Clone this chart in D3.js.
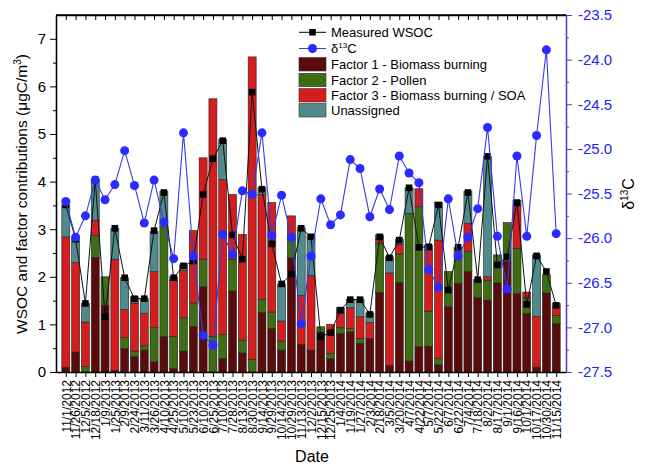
<!DOCTYPE html>
<html><head><meta charset="utf-8">
<script src="https://cdn.jsdelivr.net/npm/d3@7"></script>
<style>
body{margin:0;background:#fff;}
svg{font-family:"Liberation Sans",Arial,sans-serif;}
</style></head><body>
<svg id="c" width="645" height="472"></svg>
<script>
const dates = ["11/1/2012","11/26/2012","12/5/2012","12/18/2012","1/9/2013","1/25/2013","2/9/2013","2/24/2013","3/11/2013","3/26/2013","4/10/2013","4/25/2013","5/10/2013","5/23/2013","6/10/2013","6/25/2013","7/10/2013","7/28/2013","8/13/2013","8/30/2013","9/14/2013","9/29/2013","10/14/2013","10/29/2013","11/13/2013","12/2/2013","12/15/2013","12/25/2013","1/4/2014","1/19/2014","1/27/2014","2/3/2014","2/18/2014","3/5/2014","3/20/2014","4/7/2014","4/22/2014","5/7/2014","5/22/2014","6/7/2014","6/22/2014","7/4/2014","7/18/2014","8/2/2014","8/17/2014","9/1/2014","9/16/2014","10/1/2014","10/17/2014","10/30/2014","11/15/2014"];
const factor1 = [0.10,0.42,0.00,2.41,1.40,0.03,0.49,0.32,0.46,0.21,0.74,0.07,0.44,0.95,1.79,0.00,0.28,1.70,0.40,0.00,1.25,0.91,0.46,2.40,0.58,0.46,0.84,0.28,0.81,0.84,0.60,0.70,1.67,0.14,1.88,0.23,0.53,0.54,0.15,1.37,1.86,2.11,1.56,1.51,1.87,2.33,1.65,1.23,0.10,1.66,1.02];
const factor2 = [0.00,0.00,0.12,0.46,0.60,0.00,0.23,0.12,0.09,0.72,2.31,0.68,0.70,0.50,0.58,0.75,0.51,0.67,0.27,0.26,0.28,0.35,0.19,0.40,0.00,0.00,0.11,0.11,0.12,0.07,0.10,0.00,1.03,0.00,0.60,3.10,2.94,0.74,0.14,0.74,0.76,0.42,0.38,0.42,0.59,0.81,0.95,0.33,0.00,0.38,0.17];
const factor3 = [2.74,1.88,0.93,0.32,0.00,2.34,0.59,1.01,0.68,1.18,0.00,1.17,0.99,1.52,2.13,4.99,3.25,1.36,2.22,6.36,2.20,2.30,0.42,0.48,1.03,1.57,0.00,0.61,0.30,0.44,0.46,0.34,0.09,1.94,0.20,0.00,0.38,1.27,2.48,0.00,0.00,0.59,0.00,0.07,0.00,0.00,0.89,0.12,1.07,0.00,0.19];
const unassigned = [0.67,0.49,0.39,0.85,0.00,0.65,0.67,0.13,0.31,0.84,0.74,0.08,0.12,0.00,0.00,0.00,0.84,0.00,0.00,0.00,0.14,0.00,0.78,0.00,1.42,0.85,0.00,0.00,0.12,0.18,0.37,0.20,0.09,0.34,0.10,0.54,0.00,0.12,0.79,0.00,0.00,0.67,0.00,2.53,0.00,0.00,0.11,0.00,1.29,0.00,0.06];
const wsoc = [3.51,2.79,1.44,4.04,1.16,3.02,1.98,1.54,1.54,2.97,3.77,1.98,2.23,2.33,3.73,4.48,4.86,2.88,2.37,5.88,3.84,2.69,1.85,2.06,3.02,2.84,0.74,0.83,1.30,1.52,1.52,1.21,2.84,2.40,2.77,3.87,2.62,2.63,3.51,1.72,2.62,3.77,1.94,4.53,2.25,2.42,3.56,1.42,2.44,2.11,1.40];
const d13c = [-25.59,-25.99,-25.75,-25.35,-25.57,-25.40,-25.02,-25.41,-25.83,-25.35,-25.82,-26.23,-24.82,-26.20,-27.09,-27.20,-25.96,-26.18,-25.47,-25.51,-24.82,-25.97,-25.52,-25.99,-26.96,-26.20,-25.56,-25.85,-25.74,-25.12,-25.22,-25.76,-25.45,-25.68,-25.08,-25.27,-25.38,-26.35,-26.55,-25.56,-26.20,-25.99,-25.67,-24.76,-25.98,-26.57,-25.08,-25.98,-24.85,-23.89,-25.95];
const seriesNames = ["Factor 1 - Biomass burning","Factor 2 - Pollen","Factor 3 - Biomass burning / SOA","Unassigned"];
const seriesColors = ["#5a0b0b","#3e6d14","#d41e1e","#4f8b8c"];
const leftTicks = [0,1,2,3,4,5,6,7];
const rightTicks = [-27.5,-27.0,-26.5,-26.0,-25.5,-25.0,-24.5,-24.0,-23.5];

const svg = d3.select("#c");
const L=56, R=566, T=15, B=372;
const x = d3.scaleLinear().domain([0, dates.length+1]).range([L,R]);
const y = d3.scaleLinear().domain([0,7.5]).range([B,T]);
const y2 = d3.scaleLinear().domain([-27.5,-23.5]).range([B,T]);
const idx = d3.range(1, dates.length+1);

const rows = dates.map((d,i)=>({i:i+1, f1:factor1[i], f2:factor2[i], f3:factor3[i], u:unassigned[i]}));
const keys = ["f1","f2","f3","u"];
const stack = d3.stack().keys(keys)(rows);
const bw = 8;

const gBars = svg.append("g");
stack.forEach((layer,k)=>{
  gBars.selectAll(null).data(layer.filter(d=>d[1]-d[0]>0.001)).join("rect")
    .attr("x", d=>x(d.data.i)-bw/2).attr("width", bw)
    .attr("y", d=>y(d[1])).attr("height", d=>y(d[0])-y(d[1]))
    .attr("fill", seriesColors[k]).attr("stroke","#222").attr("stroke-width",0.6);
});

// WSOC line
const lineW = d3.line().x((d,i)=>x(i+1)).y(d=>y(d));
svg.append("path").datum(wsoc).attr("d",lineW).attr("fill","none").attr("stroke","#111").attr("stroke-width",1);
svg.selectAll(null).data(wsoc).join("rect")
  .attr("x",(d,i)=>x(i+1)-3.3).attr("y",d=>y(d)-3.3).attr("width",6.6).attr("height",6.6).attr("fill","#000");

// d13C line
const lineC = d3.line().x((d,i)=>x(i+1)).y(d=>y2(d));
svg.append("path").datum(d13c).attr("d",lineC).attr("fill","none").attr("stroke","#3a3ae8").attr("stroke-width",1.1);
svg.selectAll(null).data(d13c).join("circle")
  .attr("cx",(d,i)=>x(i+1)).attr("cy",d=>y2(d)).attr("r",4.5).attr("fill","#2b2bff");

// axes
function styleAxis(g,color){ g.select(".domain").attr("stroke",color).attr("stroke-width",1.3); g.selectAll(".tick line").attr("stroke",color).attr("stroke-width",1); }

const xAxis = svg.append("g").attr("transform",`translate(0,${B})`)
  .call(d3.axisBottom(x).tickValues(idx).tickFormat(i=>dates[i-1]).tickSize(5).tickSizeOuter(0));
styleAxis(xAxis,"#000");
xAxis.selectAll("text").attr("transform","rotate(-90)").attr("text-anchor","end")
  .attr("x",-8).attr("y",0).attr("dy","0.35em").attr("font-size",12).attr("fill","#000");

const xTop = svg.append("g").attr("transform",`translate(0,${T})`)
  .call(d3.axisTop(x).tickValues(idx).tickFormat("").tickSize(-5).tickSizeOuter(0));
styleAxis(xTop,"#000");

const yMinor = svg.append("g").attr("transform",`translate(${L},0)`)
  .call(d3.axisLeft(y).tickValues(d3.range(0.5,7.5,1)).tickFormat("").tickSize(3).tickSizeOuter(0));
styleAxis(yMinor,"#000");
const yAx = svg.append("g").attr("transform",`translate(${L},0)`)
  .call(d3.axisLeft(y).tickValues(leftTicks).tickFormat(d3.format("d")).tickSize(6).tickSizeOuter(0));
styleAxis(yAx,"#000");
yAx.selectAll("text").attr("font-size",15).attr("fill","#000").attr("x",-10);

const blueAxis="#4b3fd2", blueText="#2323f5";
const y2Minor = svg.append("g").attr("transform",`translate(${R},0)`)
  .call(d3.axisRight(y2).tickValues(d3.range(-27.25,-23.5,0.5)).tickFormat("").tickSize(3).tickSizeOuter(0));
styleAxis(y2Minor,blueAxis);
const y2Ax = svg.append("g").attr("transform",`translate(${R},0)`)
  .call(d3.axisRight(y2).tickValues(rightTicks).tickFormat(d=>d.toFixed(1)).tickSize(6).tickSizeOuter(0));
styleAxis(y2Ax,blueAxis);
y2Ax.selectAll("text").attr("font-size",15).attr("fill",blueText).attr("x",12);

// top border
svg.append("line").attr("x1",L).attr("x2",R).attr("y1",T).attr("y2",T).attr("stroke","#000").attr("stroke-width",1.3);

// titles
svg.append("text").attr("x",312).attr("y",462).attr("text-anchor","middle").attr("font-size",16).text("Date");
const lt = svg.append("text").attr("transform","translate(27,194) rotate(-90)").attr("text-anchor","middle").attr("font-size",15.5);
lt.append("tspan").text("WSOC and factor contributions (μgC/m");
lt.append("tspan").attr("font-size",10).attr("dy",-6).text("3");
lt.append("tspan").attr("dy",6).text(")");
const rt = svg.append("text").attr("transform","translate(634,194) rotate(-90)").attr("text-anchor","middle").attr("font-size",16);
rt.append("tspan").text("δ");
rt.append("tspan").attr("font-size",10).attr("dy",-6).text("13");
rt.append("tspan").attr("dy",6).text("C");

// legend
const lg = svg.append("g");
const lx = 299, tx = 331;
lg.append("line").attr("x1",lx).attr("x2",326).attr("y1",32.3).attr("y2",32.3).attr("stroke","#000");
lg.append("rect").attr("x",312.5-3.3).attr("y",32.3-3.3).attr("width",6.6).attr("height",6.6).attr("fill","#000");
lg.append("text").attr("x",tx).attr("y",32.3).attr("dy","0.35em").attr("font-size",13).text("Measured WSOC");
lg.append("line").attr("x1",lx).attr("x2",326).attr("y1",48.5).attr("y2",48.5).attr("stroke","#3a3ae8");
lg.append("circle").attr("cx",312.5).attr("cy",48.5).attr("r",4.5).attr("fill","#2b2bff");
const dl = lg.append("text").attr("x",tx).attr("y",48.5).attr("dy","0.35em").attr("font-size",13);
dl.append("tspan").text("δ");
dl.append("tspan").attr("font-size",8).attr("dy",-5).text("13");
dl.append("tspan").attr("dy",5).text("C");
const ly = [64.3,80,95.3,110.3];
seriesNames.forEach((n,k)=>{
  lg.append("rect").attr("x",lx).attr("y",ly[k]-6.7).attr("width",27).attr("height",13.4)
    .attr("fill",seriesColors[k]).attr("stroke","#333").attr("stroke-width",0.6);
  lg.append("text").attr("x",tx).attr("y",ly[k]).attr("dy","0.35em").attr("font-size",13).text(n);
});
</script></body></html>
